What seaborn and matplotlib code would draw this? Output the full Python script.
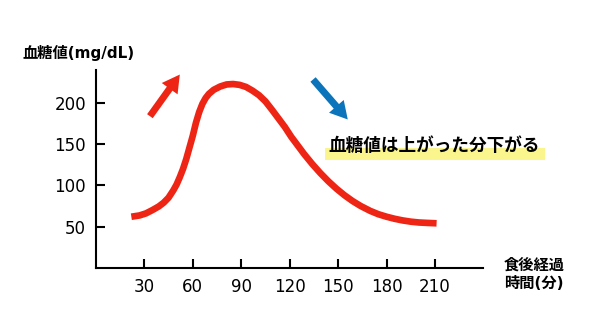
import matplotlib
matplotlib.use("Agg")
import matplotlib.pyplot as plt
from matplotlib.patches import Rectangle
import seaborn as sns
import pandas as pd

# Blood glucose after a meal (minutes after eating, mg/dL)
minutes = [22, 27, 31, 35, 39, 42, 45, 48, 50, 52, 54, 56, 58, 60, 62, 64, 66, 68, 70,
           73, 77, 81, 85, 89, 93, 97, 101, 105, 109, 113, 117, 121, 125, 129, 134,
           139, 144, 149, 154, 159, 164, 170, 175, 180, 185, 190, 195, 200, 205, 211]
glucose = [62, 63.5, 66, 70, 74.5, 79, 85, 94, 101, 110, 120, 132, 146, 160, 176, 189,
           199, 206, 211, 216, 220, 222.5, 223, 222, 219.5, 215, 209.5, 202, 192, 181.5,
           171, 159, 148.5, 138, 126, 115, 105, 96, 88, 81, 75, 69, 65, 62, 59.5, 57.5,
           56, 55, 54.5, 54]

x_ticks = [30, 60, 90, 120, 150, 180, 210]
y_ticks = [50, 100, 150, 200]

y_title = "血糖値(mg/dL)"
x_title = ["食後経過", "時間(分)"]
note = "血糖値は上がった分下がる"

# arrows: (tail, head) in data coordinates
rise_arrow = ((33.5, 184), (52, 234.5))
fall_arrow = ((134.5, 228.5), (156, 180))

RED = "#ee2514"
BLUE = "#0b74ba"
YELLOW = "#faf58c"

sns.set_theme(style="ticks")
plt.rcParams["font.family"] = ["DejaVu Sans", "Noto Sans CJK JP"]

fig = plt.figure(figsize=(6.0, 3.26), dpi=100)
ax = fig.add_axes([0.1597, 0.1785, 0.646, 0.6067])

df = pd.DataFrame({"minutes": minutes, "glucose": glucose})
sns.lineplot(data=df, x="minutes", y="glucose", ax=ax, color=RED, linewidth=4.8,
             solid_capstyle="butt", solid_joinstyle="round", zorder=3)

ax.set_xlim(0, 240)
ax.set_ylim(0, 240)
ax.set_xticks(x_ticks, [str(v) for v in x_ticks])
ax.set_yticks(y_ticks, [str(v) for v in y_ticks])
ax.set_xlabel("")
ax.set_ylabel("")

for side in ("top", "right"):
    ax.spines[side].set_visible(False)
for side in ("left", "bottom"):
    ax.spines[side].set_color("black")
    ax.spines[side].set_linewidth(1.5)

ax.tick_params(axis="both", which="major", direction="in", length=0,
               labelsize=12, labelcolor="black", pad=7)

# inward tick marks along both axes
ax.vlines(x_ticks, 0, 11, colors="black", linewidth=1.5, clip_on=False, zorder=2)
ax.hlines(y_ticks, 0, 5.6, colors="black", linewidth=1.5, clip_on=False, zorder=2)

# arrows
for (tail, head), col in ((rise_arrow, RED), (fall_arrow, BLUE)):
    ax.annotate("", xy=head, xytext=tail, annotation_clip=False,
                arrowprops=dict(arrowstyle="simple,head_length=1.25,head_width=1.4,tail_width=0.5",
                                mutation_scale=10, color=col, lw=0,
                                shrinkA=0, shrinkB=0))

# highlighted note
ax.add_patch(Rectangle((141.8, 131.1), 136.1, 14.3, facecolor=YELLOW, edgecolor="none",
                       zorder=4, clip_on=False))
ax.text(209.5, 148.2, note, ha="center", va="center", fontsize=12.7,
        fontweight="bold", color="black", zorder=5, clip_on=False)

# axis titles
fig.text(22.7 / 600, 1 - 53 / 326, y_title, ha="left", va="center",
         fontsize=11, fontweight="bold", color="black")
fig.text(534 / 600, 1 - 265 / 326, x_title[0], ha="center", va="center",
         fontsize=11, fontweight="bold", color="black")
fig.text(534 / 600, 1 - 283.5 / 326, x_title[1], ha="center", va="center",
         fontsize=11, fontweight="bold", color="black")

fig.savefig("out.png", dpi=100, facecolor="white")
